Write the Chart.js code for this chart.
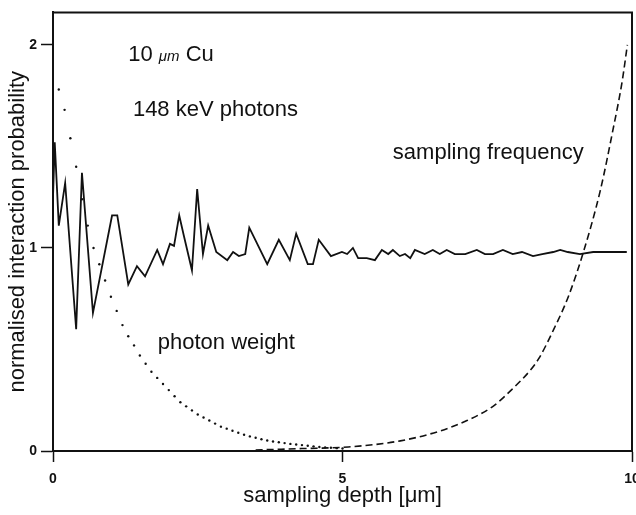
<!DOCTYPE html>
<html>
<head>
<meta charset="utf-8">
<script src="https://cdn.jsdelivr.net/npm/chart.js"></script>
<style>
	html, body { margin: 0; padding: 0; background: #fff; overflow: hidden; }
	#wrap { width: 650px; height: 515px; }
</style>
</head>
<body>
<div id="wrap"><canvas id="depth-chart"></canvas></div>
<script>
// solid curve: normalised interaction probability
const depthSolid = [0, 0.03, 0.10, 0.21, 0.40, 0.50, 0.69, 1.02, 1.11, 1.30, 1.45, 1.59, 1.80, 1.90, 2.02, 2.09, 2.18, 2.26, 2.40, 2.49, 2.59, 2.68, 2.82, 3.01, 3.11, 3.21, 3.32, 3.39, 3.70, 3.90, 4.09, 4.20, 4.40, 4.49, 4.59, 4.80, 4.99, 5.08, 5.18, 5.27, 5.42, 5.56, 5.68, 5.79, 5.87, 5.99, 6.08, 6.17, 6.25, 6.42, 6.56, 6.68, 6.80, 6.94, 7.12, 7.32, 7.46, 7.60, 7.77, 7.94, 8.10, 8.29, 8.45, 8.64, 8.76, 8.89, 9.10, 9.33, 9.91]
const probSolid = [1.25, 1.52, 1.11, 1.32, 0.60, 1.37, 0.68, 1.16, 1.16, 0.82, 0.91, 0.86, 0.99, 0.92, 1.02, 1.01, 1.16, 1.06, 0.89, 1.29, 0.97, 1.11, 0.98, 0.94, 0.98, 0.96, 0.97, 1.10, 0.92, 1.04, 0.94, 1.07, 0.92, 0.92, 1.04, 0.96, 0.98, 0.97, 1.00, 0.95, 0.95, 0.94, 0.99, 0.97, 0.99, 0.96, 0.97, 0.95, 0.99, 0.97, 0.99, 0.97, 0.99, 0.97, 0.97, 0.99, 0.97, 0.97, 0.99, 0.97, 0.98, 0.96, 0.97, 0.98, 0.99, 0.98, 0.97, 0.98, 0.98]

// dashed curve: sampling frequency
const depthFreq = [3.5, 4.3, 5.1, 6.0, 6.7, 7.15, 7.6, 7.95, 8.25, 8.4, 8.65, 8.9, 9.15, 9.45, 9.67, 9.83, 9.92]
const freq = [0.005, 0.012, 0.02, 0.05, 0.10, 0.15, 0.22, 0.31, 0.40, 0.46, 0.60, 0.76, 0.97, 1.28, 1.58, 1.82, 2.0]

// dotted curve: photon weight
const depthWeight = [0.1, 0.2, 0.3, 0.4, 0.5, 0.6, 0.7, 0.8, 0.9, 1.0, 1.1, 1.2, 1.3, 1.4, 1.5, 1.6, 1.7, 1.8, 1.9, 2.0, 2.1, 2.2, 2.3, 2.4, 2.5, 2.6, 2.7, 2.8, 2.9, 3.0, 3.1, 3.2, 3.3, 3.4, 3.5, 3.6, 3.7, 3.8, 3.9, 4.0, 4.1, 4.2, 4.3, 4.4, 4.5, 4.6, 4.7, 4.8, 4.9, 5.0]
const weight = [1.78, 1.68, 1.54, 1.40, 1.24, 1.11, 1.00, 0.92, 0.84, 0.76, 0.69, 0.62, 0.565, 0.52, 0.47, 0.43, 0.39, 0.36, 0.33, 0.30, 0.27, 0.24, 0.22, 0.20, 0.18, 0.165, 0.15, 0.135, 0.12, 0.11, 0.10, 0.09, 0.08, 0.072, 0.065, 0.058, 0.052, 0.047, 0.043, 0.039, 0.035, 0.032, 0.029, 0.026, 0.023, 0.02, 0.018, 0.016, 0.014, 0.012]

// axis ticks
const xTicks = [0, 5, 10]
const yTicks = [0, 1, 2]

// text written inside the plot, anchored in data units
const notes = [
	{ text: '10 μm Cu', x: 1.30, y: 1.92 },
	{ text: '148 keV photons', x: 1.38, y: 1.65 },
	{ text: 'sampling frequency', x: 5.87, y: 1.44 },
	{ text: 'photon weight', x: 1.81, y: 0.50 },
]

const ink = '#111'
const face = "'Liberation Sans', Arial, Helvetica, sans-serif"

function toPoints(xs, ys) {
	return xs.map((x, i) => ({ x: x, y: ys[i] }))
}

// draws the top/right frame and the in-plot labels
const framePlugin = {
	id: 'frame',
	afterDraw(chart) {
		const { ctx, chartArea, scales } = chart
		ctx.save()
		ctx.strokeStyle = ink
		ctx.lineWidth = 2
		ctx.beginPath()
		ctx.moveTo(chartArea.left, chartArea.top)
		ctx.lineTo(chartArea.right, chartArea.top)
		ctx.lineTo(chartArea.right, chartArea.bottom)
		ctx.stroke()

		ctx.fillStyle = ink
		ctx.textBaseline = 'alphabetic'
		ctx.textAlign = 'left'
		notes.forEach((note) => {
			let px = scales.x.getPixelForValue(note.x)
			const py = scales.y.getPixelForValue(note.y)
			// the unit is set smaller, as in the original figure
			note.text.split(/(μm)/).forEach((part) => {
				if (!part) return
				ctx.font = part === 'μm' ? 'italic 15px ' + face : '22px ' + face
				ctx.fillText(part, px, py)
				px += ctx.measureText(part).width
			})
		})
		ctx.restore()
	},
}

const ctx = document.getElementById('depth-chart').getContext('2d')
new Chart(ctx, {
	type: 'line',
	data: {
		datasets: [
			{
				label: 'interaction probability',
				data: toPoints(depthSolid, probSolid),
				borderColor: ink,
				borderWidth: 1.8,
				pointRadius: 0,
				tension: 0,
				fill: false,
			},
			{
				label: 'sampling frequency',
				data: toPoints(depthFreq, freq),
				borderColor: ink,
				borderWidth: 1.6,
				borderDash: [7, 4],
				pointRadius: 0,
				cubicInterpolationMode: 'monotone',
				fill: false,
			},
			{
				label: 'photon weight',
				data: toPoints(depthWeight, weight),
				showLine: false,
				pointRadius: 1.2,
				pointBorderWidth: 0,
				pointBackgroundColor: ink,
				fill: false,
			},
		],
	},
	options: {
		responsive: true,
		maintainAspectRatio: false,
		animation: false,
		layout: { padding: { top: 7, right: 18, bottom: 0, left: 0 } },
		plugins: {
			legend: { display: false },
			tooltip: { enabled: false },
		},
		scales: {
			x: {
				type: 'linear',
				min: 0,
				max: 10,
				afterBuildTicks: (scale) => {
					scale.ticks = xTicks.map((v) => ({ value: v }))
				},
				afterFit: (scale) => {
					scale.height = 64
				},
				ticks: {
					color: ink,
					padding: 9,
					font: { family: face, size: 14, weight: 'bold' },
				},
				grid: {
					drawOnChartArea: false,
					drawTicks: true,
					tickLength: 11,
					tickWidth: 1.5,
					tickColor: ink,
				},
				border: { display: true, color: ink, width: 2 },
				title: {
					display: true,
					text: 'sampling depth [μm]',
					color: ink,
					padding: { top: 0, bottom: 6 },
					font: { family: face, size: 22 },
				},
			},
			y: {
				type: 'linear',
				min: 0,
				max: 2.16,
				afterBuildTicks: (scale) => {
					scale.ticks = yTicks.map((v) => ({ value: v }))
				},
				afterFit: (scale) => {
					scale.width = 53
				},
				ticks: {
					color: ink,
					padding: 4,
					font: { family: face, size: 14, weight: 'bold' },
				},
				grid: {
					drawOnChartArea: false,
					drawTicks: true,
					tickLength: 12,
					tickWidth: 1.5,
					tickColor: ink,
				},
				border: { display: true, color: ink, width: 2 },
				title: {
					display: true,
					text: 'normalised interaction probability',
					color: ink,
					padding: { top: 5, bottom: 0 },
					font: { family: face, size: 22 },
				},
			},
		},
	},
	plugins: [framePlugin],
})
</script>
</body>
</html>
